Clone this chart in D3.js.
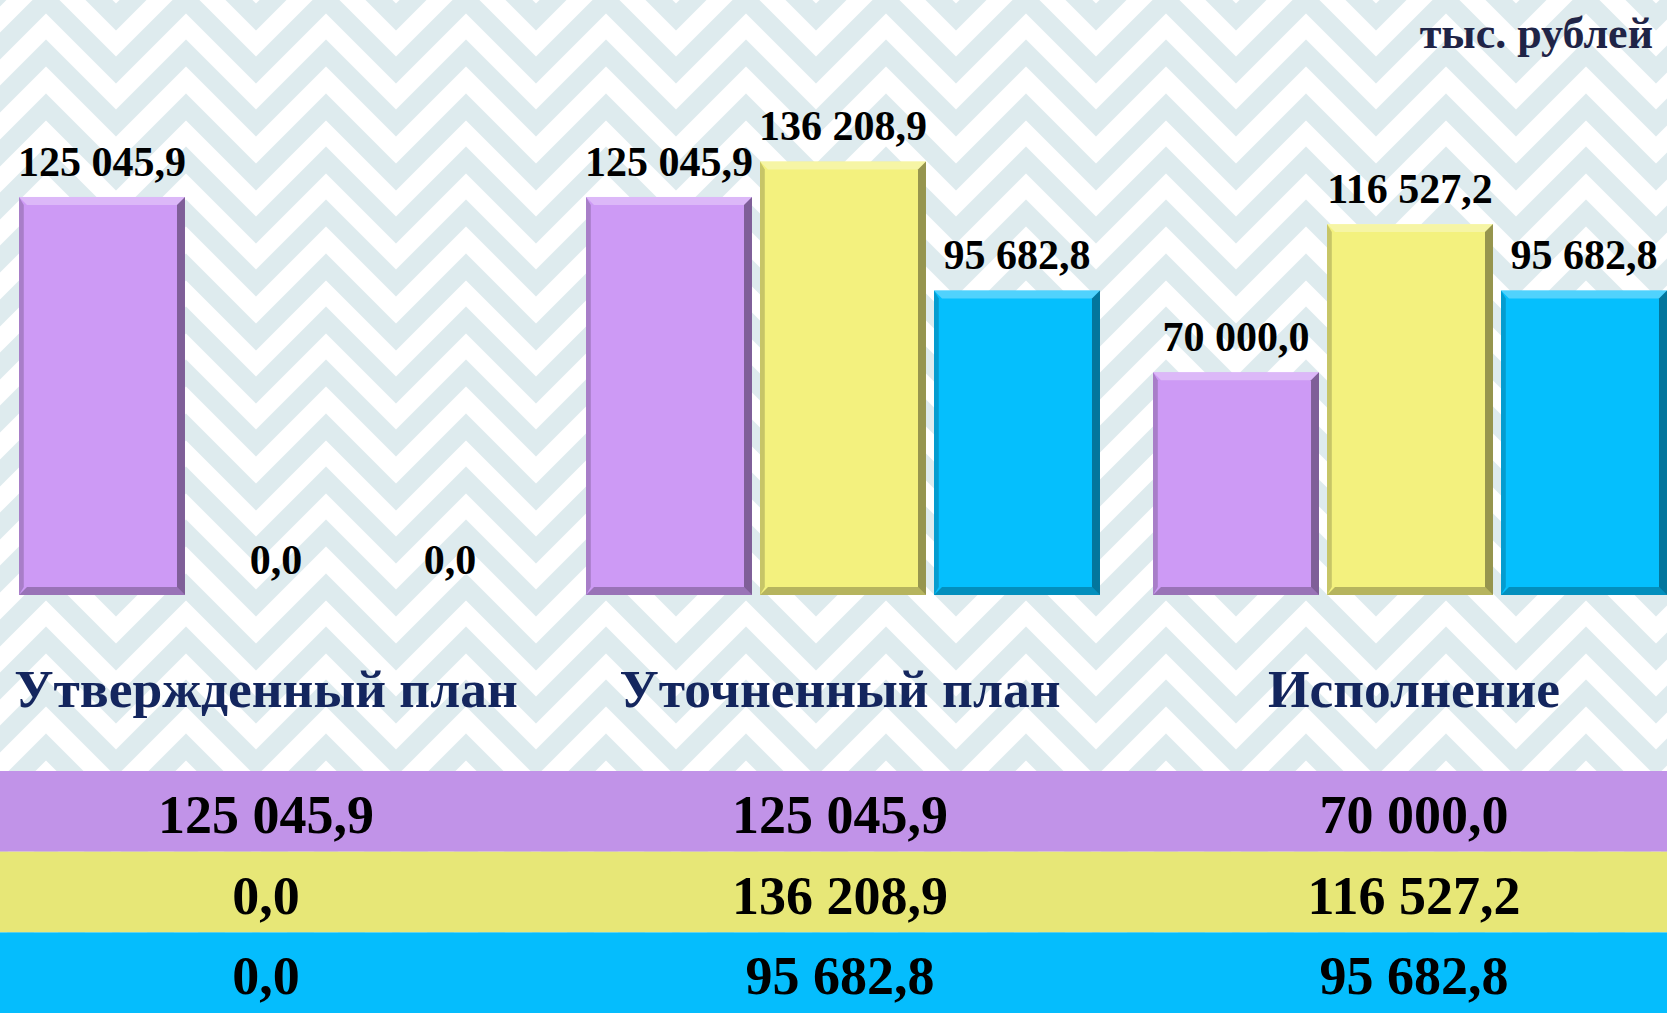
<!DOCTYPE html>
<html>
<head>
<meta charset="utf-8">
<script src="https://cdn.jsdelivr.net/npm/d3@7"></script>
<style>
  body { margin: 0; overflow: hidden; background: #fff; }
  text { font-family: "Liberation Serif", "Times New Roman", serif; font-weight: bold; }
</style>
</head>
<body>
<div id="chart"></div>
<script>
// data
var categories = ["Утвержденный план", "Уточненный план", "Исполнение"];
var purpleValues = [125045.9, 125045.9, 70000.0];
var yellowValues = [0.0, 136208.9, 116527.2];
var blueValues = [0.0, 95682.8, 95682.8];
var unitLabel = "тыс. рублей";

var seriesList = [
    { key: "purple", values: purpleValues, bar: "#cd9af5", row: "#c193e8" },
    { key: "yellow", values: yellowValues, bar: "#f3f17e", row: "#e7e777" },
    { key: "blue",   values: blueValues,   bar: "#05bffd", row: "#05bdfd" }
];

var W = 1667, H = 1013;

var svg = d3.select("#chart")
            .append("svg")
            .attr("width", W)
            .attr("height", H);

// background ornament (rough zigzag)
var defs = svg.append("defs");
var pat = defs.append("pattern")
              .attr("id", "ornament")
              .attr("patternUnits", "userSpaceOnUse")
              .attr("width", 140)
              .attr("height", 160)
              .attr("x", -24)
              .attr("y", 0);
pat.append("rect").attr("width", 140).attr("height", 160).attr("fill", "#ffffff");
[-160, -107, -53, 0, 53, 107, 160].forEach(function(dy) {
    pat.append("path")
       .attr("d", "M-10," + (dy + 80) + " L70," + dy + " L150," + (dy + 80))
       .attr("fill", "none")
       .attr("stroke", "#deebee")
       .attr("stroke-width", 19);
});
svg.append("rect")
   .attr("width", W)
   .attr("height", H)
   .attr("fill", "url(#ornament)");

// scales
var x0 = d3.scaleBand()
           .domain(categories)
           .range([19, 1667])
           .paddingInner(0.0935)
           .paddingOuter(0);

var x1 = d3.scaleBand()
           .domain(seriesList.map(function(s) { return s.key; }))
           .range([0, x0.bandwidth()])
           .paddingInner(0.046);

// column centres for category names and table
var xc = d3.scalePoint()
           .domain(categories)
           .range([266, 1414]);

var y = d3.scaleLinear()
          .domain([0, 140000])
          .range([595, 595 - 140000 * 0.003183]);

var fmt = d3.formatLocale({ decimal: ",", thousands: " ", grouping: [3], currency: ["", ""] }).format(",.1f");

// bars
var groups = svg.selectAll("g.group")
                .data(categories)
                .enter()
                .append("g")
                .attr("class", "group")
                .attr("transform", function(d) { return "translate(" + x0(d) + ",0)"; });

var cells = groups.selectAll("g.bar")
                  .data(function(d, i) {
                      return seriesList.map(function(s) {
                          return { key: s.key, value: s.values[i], color: s.bar };
                      });
                  })
                  .enter()
                  .append("g")
                  .attr("class", "bar");

var bev = 8;
cells.filter(function(d) { return d.value > 0; }).each(function(d) {
    var g = d3.select(this);
    var bx = x1(d.key), by = y(d.value), bw = x1.bandwidth(), bh = y(0) - y(d.value);
    g.append("rect")
     .attr("x", bx).attr("y", by)
     .attr("width", bw).attr("height", bh)
     .attr("fill", d.color);
    // bevel edges
    g.append("path")
     .attr("d", "M" + bx + "," + by + "L" + (bx + bw) + "," + by + "L" + (bx + bw - bev) + "," + (by + bev) + "L" + (bx + bev) + "," + (by + bev) + "Z")
     .attr("fill", "#ffffff").attr("opacity", 0.3);
    g.append("path")
     .attr("d", "M" + bx + "," + by + "L" + (bx + bev * 0.6) + "," + (by + bev) + "L" + (bx + bev * 0.6) + "," + (by + bh - bev) + "L" + bx + "," + (by + bh) + "Z")
     .attr("fill", "#000000").attr("opacity", 0.18);
    g.append("path")
     .attr("d", "M" + bx + "," + (by + bh) + "L" + (bx + bw) + "," + (by + bh) + "L" + (bx + bw - bev) + "," + (by + bh - bev) + "L" + (bx + bev) + "," + (by + bh - bev) + "Z")
     .attr("fill", "#000000").attr("opacity", 0.25);
    g.append("path")
     .attr("d", "M" + (bx + bw) + "," + by + "L" + (bx + bw) + "," + (by + bh) + "L" + (bx + bw - bev) + "," + (by + bh - bev) + "L" + (bx + bw - bev) + "," + (by + bev) + "Z")
     .attr("fill", "#000000").attr("opacity", 0.38);
});

cells.append("text")
     .attr("x", function(d) { return x1(d.key) + x1.bandwidth() / 2; })
     .attr("y", function(d) { return y(d.value) - 21; })
     .attr("text-anchor", "middle")
     .style("font-size", "42px")
     .attr("fill", "#000")
     .text(function(d) { return fmt(d.value); });

// category labels
svg.selectAll("text.cat")
   .data(categories)
   .enter()
   .append("text")
   .attr("class", "cat")
   .attr("x", function(d) { return xc(d); })
   .attr("y", 707)
   .attr("text-anchor", "middle")
   .attr("fill", "#14265e")
   .style("font-size", "53.5px")
   .text(function(d) { return d; });

// unit label
svg.append("text")
   .attr("x", 1653)
   .attr("y", 48)
   .attr("text-anchor", "end")
   .attr("fill", "#1f2447")
   .style("font-size", "44px")
   .text(unitLabel);

// table
var rowTop = 771, rowH = 80.7;
var rows = svg.selectAll("g.row")
              .data(seriesList)
              .enter()
              .append("g")
              .attr("class", "row")
              .attr("transform", function(d, i) { return "translate(0," + (rowTop + i * rowH) + ")"; });

rows.append("rect")
    .attr("width", W)
    .attr("height", rowH)
    .attr("fill", function(d) { return d.row; });

rows.selectAll("text")
    .data(function(s) { return s.values; })
    .enter()
    .append("text")
    .attr("x", function(d, i) { return xc(categories[i]); })
    .attr("y", 62)
    .attr("text-anchor", "middle")
    .attr("fill", "#000")
    .style("font-size", "54px")
    .text(function(d) { return fmt(d); });
</script>
</body>
</html>
